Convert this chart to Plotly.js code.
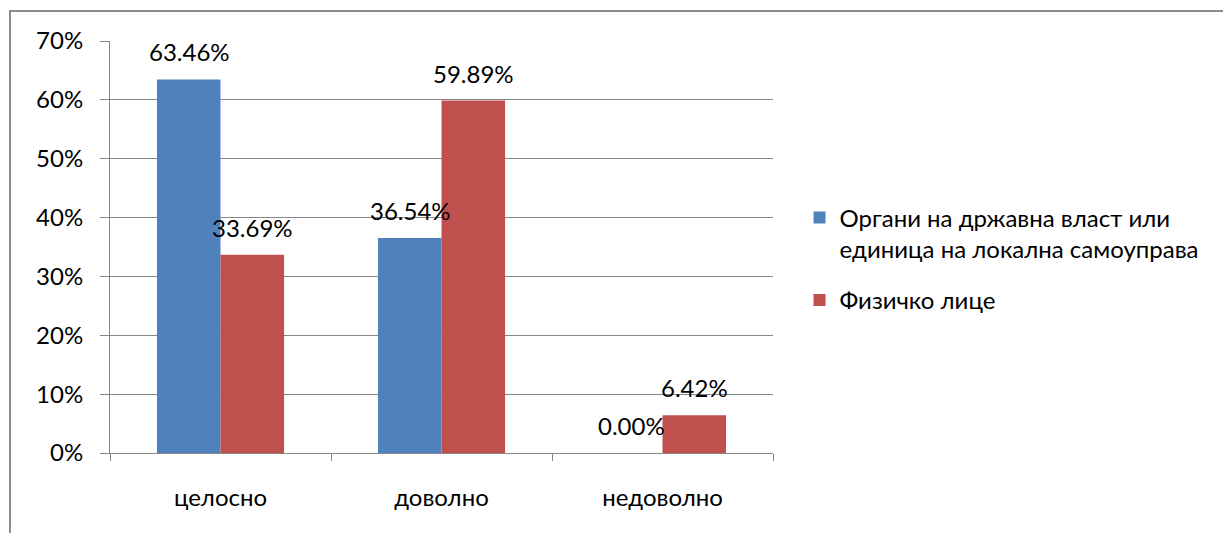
<!DOCTYPE html>
<html><head><meta charset="utf-8">
<script src="https://cdn.plot.ly/plotly-3.0.1.min.js"></script>
<style>
html,body{margin:0;padding:0;background:#fff;overflow:hidden}
#chart{position:absolute;left:0;top:0;width:1223px;height:533px}
#frame{position:absolute;left:9px;top:10px;width:1300px;height:600px;border-left:2px solid #8c8c8c;border-top:2px solid #8c8c8c;pointer-events:none}
</style></head>
<body>
<div id="chart"></div>
<div id="frame"></div>
<script>
const categories = ["целосно", "доволно", "недоволно"];
const seriesNames = ["Органи на државна власт или<br>единица на локална самоуправа", "Физичко лице"];
const organi = [0.6346, 0.3654, 0.0];
const fizicko = [0.3369, 0.5989, 0.0642];
const colors = ["#4F81BD", "#C0504D"];
const yTickVals = [0, 0.1, 0.2, 0.3, 0.4, 0.5, 0.6, 0.7];
const yTickText = ["0%", "10%", "20%", "30%", "40%", "50%", "60%", "70%"];

const font = "Lato, 'Open Sans', sans-serif";
const fs = 24;
const allSeries = [organi, fizicko];
const traces = allSeries.map((vals, i) => ({
  type: "bar", x: categories, y: vals, name: seriesNames[i],
  marker: {color: colors[i]}, legendgroup: "g" + i, hoverinfo: "none"
}));

const annotations = [];
allSeries.forEach((vals, i) => {
  vals.forEach((v, j) => {
    annotations.push({
      x: categories[j], y: v, xref: "x", yref: "y",
      text: (v * 100).toFixed(2) + "%", showarrow: false,
      xanchor: "center", yanchor: "bottom",
      xshift: (i === 0 ? -31.5 : 31.5), yshift: 11,
      font: {family: font, size: fs, color: "#000"}
    });
  });
});

const layout = {
  width: 1223, height: 533,
  margin: {l: 110, r: 450, t: 41, b: 80},
  paper_bgcolor: "#fff", plot_bgcolor: "#fff",
  barmode: "group", bargap: 0.425, bargroupgap: 0,
  showlegend: true,
  legend: {
    x: 1.040, xanchor: "left", y: 0.625, yanchor: "top",
    font: {family: font, size: fs, color: "#000"},
    valign: "top", tracegroupgap: 17, itemwidth: 30
  },
  xaxis: {
    showline: true, linecolor: "#868686", linewidth: 1,
    ticks: "outside", tickson: "boundaries", ticklen: 7, tickcolor: "#868686",
    showgrid: false, ticklabelstandoff: 23,
    tickfont: {family: font, size: fs, color: "#000"}, fixedrange: true
  },
  yaxis: {
    range: [0, 0.7], tickvals: yTickVals, ticktext: yTickText,
    showline: true, linecolor: "#868686", linewidth: 1,
    ticks: "outside", ticklen: 9, tickcolor: "#868686",
    showgrid: true, gridcolor: "#868686", gridwidth: 1, zeroline: false,
    ticklabelstandoff: 12,
    tickfont: {family: font, size: fs, color: "#000"}, fixedrange: true
  },
  annotations: annotations
};

Plotly.newPlot("chart", traces, layout, {displayModeBar: false, staticPlot: true});
</script>
</body></html>
